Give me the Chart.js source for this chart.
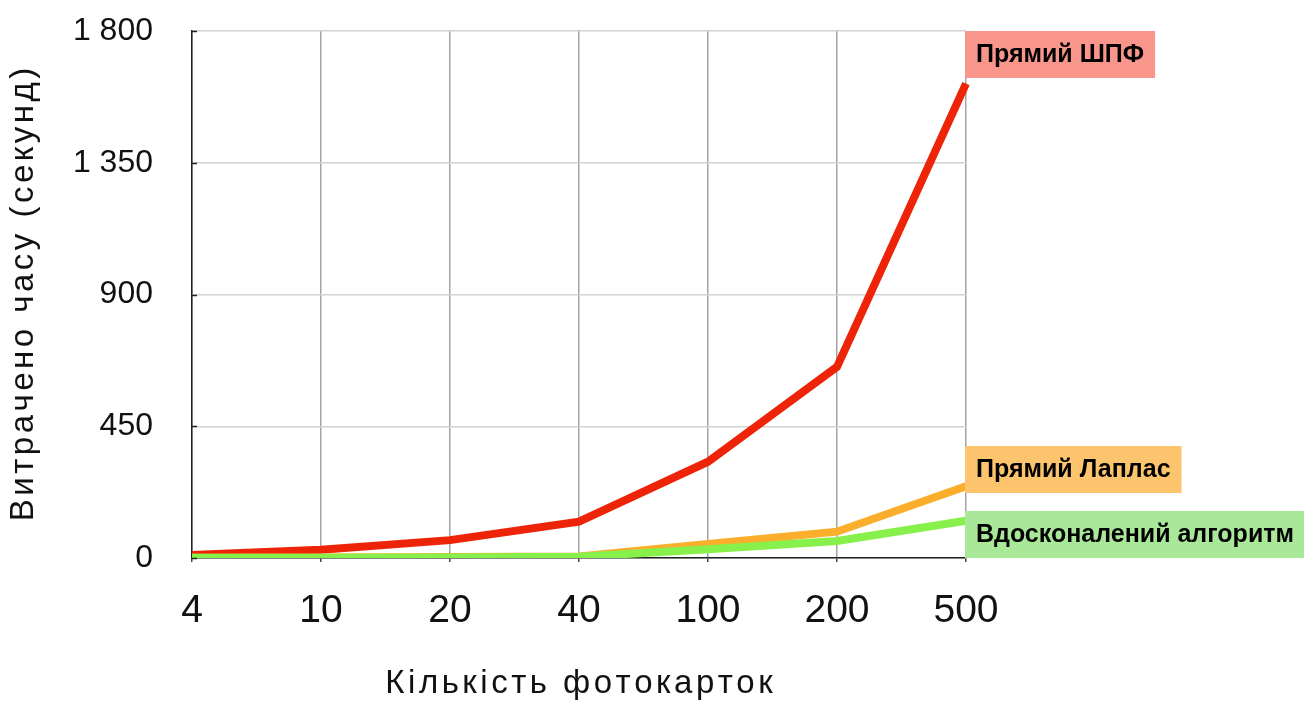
<!DOCTYPE html>
<html lang="uk">
<head>
<meta charset="utf-8">
<script src="https://cdn.jsdelivr.net/npm/chart.js@4.4.1/dist/chart.umd.min.js"></script>
<style>
html,body{margin:0;padding:0;background:#fff;}
#wrap{width:1304px;height:702px;position:relative;}
</style>
</head>
<body>
<div id="wrap"><canvas id="c" width="1304" height="702"></canvas></div>
<script>
// Number of photos processed (category axis)
const photoCounts = ['4', '10', '20', '40', '100', '200', '500'];
// Elapsed time in seconds for each method
const directFft = [10, 28, 61, 124, 329, 653, 1620];
const directLaplace = [1, 2, 3, 5, 48, 90, 245];
const improvedAlgo = [0.5, 1, 2, 4, 30, 58, 127];
const seriesNames = ['Прямий ШПФ', 'Прямий Лаплас', 'Вдосконалений алгоритм'];
const lineColors = ['#ee2408', '#fbae2c', '#88f04a'];
const boxColors = ['#f9968c', '#fcc46c', '#a9e898'];
const yTickValues = [0, 450, 900, 1350, 1800];
const xTitle = 'Кількість фотокарток';
const yTitle = 'Витрачено часу (секунд)';

const FONT = '"Liberation Sans", Arial, Helvetica, sans-serif';

function groupThousands(v) {
  return String(v).replace(/\B(?=(\d{3})+(?!\d))/g, ' ');
}

// Draws a string centred on (0,0) with extra tracking between letters
function spacedText(ctx, text, spacing) {
  const chars = Array.from(text);
  const widths = chars.map(c => ctx.measureText(c).width);
  const total = widths.reduce((a, b) => a + b, 0) + spacing * (chars.length - 1);
  let x = -total / 2;
  ctx.textAlign = 'left';
  chars.forEach((c, i) => {
    ctx.fillText(c, x, 0);
    x += widths[i] + spacing;
  });
}

// Short inward tick marks on the value axis
const innerTicks = {
  id: 'innerTicks',
  afterDatasetsDraw(chart) {
    const {ctx} = chart;
    const y = chart.scales.y;
    ctx.save();
    ctx.strokeStyle = '#222';
    ctx.lineWidth = 1.5;
    y.ticks.forEach(t => {
      const py = Math.round(y.getPixelForValue(t.value)) + 0.5;
      ctx.beginPath();
      ctx.moveTo(y.right, py);
      ctx.lineTo(y.right + 5, py);
      ctx.stroke();
    });
    ctx.restore();
  }
};

// Axis titles, set with slightly wide tracking
const axisTitles = {
  id: 'axisTitles',
  afterDraw(chart) {
    const {ctx, chartArea} = chart;
    ctx.save();
    ctx.font = '33px ' + FONT;
    ctx.fillStyle = '#111';
    ctx.textBaseline = 'middle';
    ctx.translate((chartArea.left + chartArea.right) / 2, chart.height - 18);
    spacedText(ctx, xTitle, 3.5);
    ctx.restore();

    ctx.save();
    ctx.font = '33px ' + FONT;
    ctx.fillStyle = '#111';
    ctx.textBaseline = 'middle';
    ctx.translate(24, (chartArea.top + chartArea.bottom) / 2);
    ctx.rotate(-Math.PI / 2);
    spacedText(ctx, yTitle, 3.5);
    ctx.restore();
  }
};

// Coloured name boxes at the right end of each series
const endLabels = {
  id: 'endLabels',
  afterDatasetsDraw(chart) {
    const {ctx, chartArea} = chart;
    const h = 47, padX = 11, gap = 18;
    const tops = [];
    tops[0] = chartArea.top;
    tops[2] = chartArea.bottom - h;
    tops[1] = tops[2] - gap - h;
    ctx.save();
    ctx.font = 'bold 25px ' + FONT;
    ctx.textBaseline = 'middle';
    ctx.textAlign = 'left';
    seriesNames.forEach((name, i) => {
      const w = ctx.measureText(name).width + 2 * padX;
      const x0 = chartArea.right - 1;
      ctx.fillStyle = boxColors[i];
      ctx.fillRect(x0, tops[i], w, h);
      ctx.fillStyle = '#000';
      ctx.fillText(name, x0 + padX, tops[i] + h / 2 + 1);
    });
    ctx.restore();
  }
};

new Chart(document.getElementById('c'), {
  type: 'line',
  data: {
    labels: photoCounts,
    datasets: [
      {label: seriesNames[0], data: directFft, borderColor: lineColors[0], order: 2},
      {label: seriesNames[1], data: directLaplace, borderColor: lineColors[1], order: 1},
      {label: seriesNames[2], data: improvedAlgo, borderColor: lineColors[2], order: 0}
    ].map(d => Object.assign(d, {
      borderWidth: 8, pointRadius: 0, pointHoverRadius: 0, tension: 0, fill: false,
      borderCapStyle: 'butt', borderJoinStyle: 'miter'
    }))
  },
  options: {
    responsive: false,
    animation: false,
    devicePixelRatio: 1,
    layout: {padding: {top: 31, right: 338, bottom: 0, left: 0}},
    plugins: {legend: {display: false}, tooltip: {enabled: false}},
    scales: {
      x: {
        offset: false,
        grid: {color: '#a3a3a3', lineWidth: 1.5, drawTicks: true, tickLength: 4, tickColor: '#444'},
        border: {color: '#222', width: 1.5},
        ticks: {color: '#111', padding: 26, font: {family: FONT, size: 39}, maxRotation: 0},
        title: {display: false},
        afterFit(scale) { scale.height = 144; }
      },
      y: {
        min: 0, max: 1800,
        afterBuildTicks(scale) { scale.ticks = yTickValues.map(v => ({value: v})); },
        grid: {color: '#d2d2d2', lineWidth: 1.5, drawTicks: false},
        border: {color: '#222', width: 1.5},
        ticks: {color: '#111', padding: 39, font: {family: FONT, size: 32},
                callback: v => groupThousands(v)},
        title: {display: false},
        afterFit(scale) {
          scale.width = 192;
          scale.paddingTop = 0;
          scale.paddingBottom = 0;
        }
      }
    }
  },
  plugins: [innerTicks, endLabels, axisTitles]
});
</script>
</body>
</html>
